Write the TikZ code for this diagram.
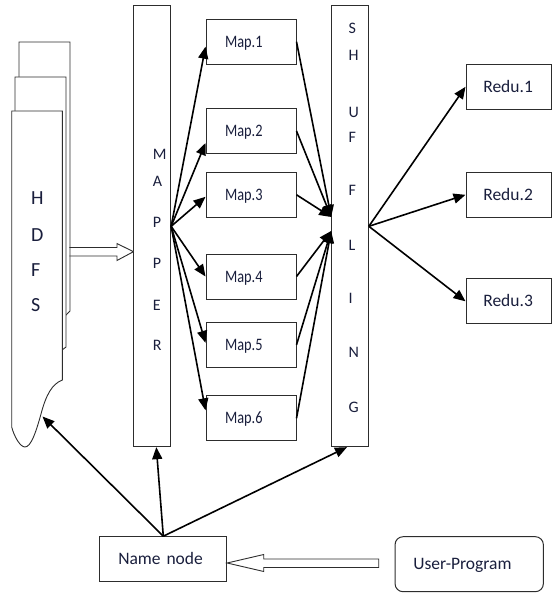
\documentclass[tikz,border=0pt]{standalone}
\usepackage{fontspec}
\setmainfont{Carlito}
\usetikzlibrary{arrows.meta,calc}
\definecolor{txt}{RGB}{25,30,60}
\definecolor{edge}{RGB}{45,45,45}
\begin{document}
\begin{tikzpicture}[x=1pt,y=-1pt,
  box/.style={draw=edge, line width=1pt, minimum height=45pt, inner ysep=0pt,
    text=txt, font=\fontsize{17.5}{20}\selectfont, align=left, text height=11pt, text depth=0pt},
  mapbox/.style={box, minimum width=90pt, text width=52pt, inner xsep=19pt},
  redbox/.style={box, minimum width=85pt, text width=50.4pt, inner xsep=17.3pt},
  column/.style={draw=edge, line width=1pt, minimum width=36.7pt, minimum height=440.7pt, inner sep=0pt},
  lt/.style={text=txt, inner sep=0pt, anchor=west, font=\fontsize{16}{18}\selectfont},
  biglt/.style={text=txt, inner sep=0pt, anchor=west, font=\fontsize{20}{22}\selectfont},
  sheet/.style={draw=edge, fill=white, line width=0.9pt},
  conn/.style={line width=1.6pt, -{Triangle[length=12pt,width=10pt]}},
  hollow/.style={draw=edge, line width=0.9pt, fill=white},
]
\useasboundingbox (0,0) rectangle (552,593);

% HDFS stack
\draw[sheet] (19,42) -- (70,42) -- (70,311) -- (66,315) -- (30,380) -- (19,380) -- cycle;
\draw[sheet] (15,77) -- (66,77) -- (66,347) -- (62,350) -- (30,400) -- (15,400) -- cycle;
\draw[sheet] (11.7,111) -- (62.3,111) -- (62.3,380)
  .. controls (52,384) and (46,395) .. (41,414)
  .. controls (36,432) and (31,447) .. (25,447)
  .. controls (20,447) and (14,436) .. (11.7,427) -- cycle;
\node[biglt] (h1) at (31,198) {H};
\node[biglt] (h2) at (31,235) {D};
\node[biglt] (h3) at (31,270) {F};
\node[biglt] (h4) at (31,305) {S};
\coordinate (hdfstip) at (42.5,416.5);

% MAPPER
\node[column] (mapper) at (152.3,226.3) {};
\node[lt] (m1) at (152.7,154) {M};
\node[lt] (m2) at (152.7,181) {A};
\node[lt] (m3) at (152.7,222) {P};
\node[lt] (m4) at (152.7,263) {P};
\node[lt] (m5) at (152.7,305) {E};
\node[lt] (m6) at (152.7,345) {R};

% SHUFFLING
\node[column] (shuf) at (350,226.3) {};
\node[lt] (s1) at (348.3,28) {S};
\node[lt] (s2) at (348.3,55) {H};
\node[lt] (s3) at (348.3,112) {U};
\node[lt] (s4) at (348.3,137) {F};
\node[lt] (s5) at (348.3,190) {F};
\node[lt] (s6) at (348.3,245) {L};
\node[lt] (s7) at (348.3,298) {I};
\node[lt] (s8) at (348.3,352) {N};
\node[lt] (s9) at (348.3,407) {G};

% Map boxes
\node[mapbox] (map1) at (251,41.7) {\scalebox{0.82}[1]{Map.1}};
\node[mapbox] (map2) at (251,131) {\scalebox{0.82}[1]{Map.2}};
\node[mapbox] (map3) at (251,194.8) {\scalebox{0.82}[1]{Map.3}};
\node[mapbox] (map4) at (251,276.5) {\scalebox{0.82}[1]{Map.4}};
\node[mapbox] (map5) at (251,344.8) {\scalebox{0.82}[1]{Map.5}};
\node[mapbox] (map6) at (251,418.3) {\scalebox{0.82}[1]{Map.6}};

% Reduce boxes
\node[redbox] (red1) at (508.5,86.8) {Redu.1};
\node[redbox] (red2) at (508.5,194.8) {Redu.2};
\node[redbox] (red3) at (508.5,301.3) {Redu.3};

% Name node and user program
\node[box, minimum width=126.7pt, text width=90pt, inner xsep=18.3pt] (name) at (163.3,559.2) {Name node};
\node[box, minimum width=148.3pt, minimum height=55pt, text width=111.7pt, inner xsep=18.3pt,
  rounded corners=8pt] (user) at (469.2,564.2) {User-Program};

% hollow arrow HDFS -> MAPPER
\coordinate (hin) at ([yshift=-25.4pt]mapper.west);
\draw[hollow] (hin) -- ++(-16.5,-8.2) -- ++(0,4) -- ++(-47.5,0)
  ++(0,8.5) -- ++(47.5,0) -- ++(0,4.5) -- (hin);

% hollow arrow User-Program -> Name node
\coordinate (uin) at ([yshift=-3.8pt]name.east);
\draw[hollow] (uin) -- ++(36.6,-8.5) -- ++(0,4.5) -- ++(115,0) -- ++(0,8.5)
  -- ++(-115,0) -- ++(0,4) -- cycle;

% mapper fan-out
\draw[conn] (mapper.east) -- ([yshift=-5pt]map1.west);
\draw[conn] (mapper.east) -- ([yshift=-12pt]map2.west);
\draw[conn] (mapper.east) -- ([yshift=-2pt]map3.west);
\draw[conn] (mapper.east) -- (map4.west);
\draw[conn] (mapper.east) -- ([yshift=2pt]map5.west);
\draw[conn] (mapper.east) -- ([yshift=8pt]map6.west);

% maps into shuffling
\coordinate (shA) at ($(shuf.west)+(0,-9.3)$);
\coordinate (shB) at ($(shuf.west)+(0,4.7)$);
\draw[conn] (map1.east) -- (shA);
\draw[conn] (map2.east) -- (shA);
\draw[conn] (map3.east) -- (shA);
\draw[conn] (map4.east) -- (shB);
\draw[conn] (map5.east) -- (shB);
\draw[conn] (map6.east) -- (shB);

% shuffling to reducers
\draw[conn] (shuf.east) -- (red1.west);
\draw[conn] (shuf.east) -- (red2.west);
\draw[conn] (shuf.east) -- (red3.west);

% name node arrows
\draw[conn] (name.north) -- (hdfstip);
\draw[conn] (name.north) -- ([xshift=4pt]mapper.south);
\draw[conn] (name.north) -- ([xshift=-3pt]shuf.south);
\end{tikzpicture}
\end{document}
